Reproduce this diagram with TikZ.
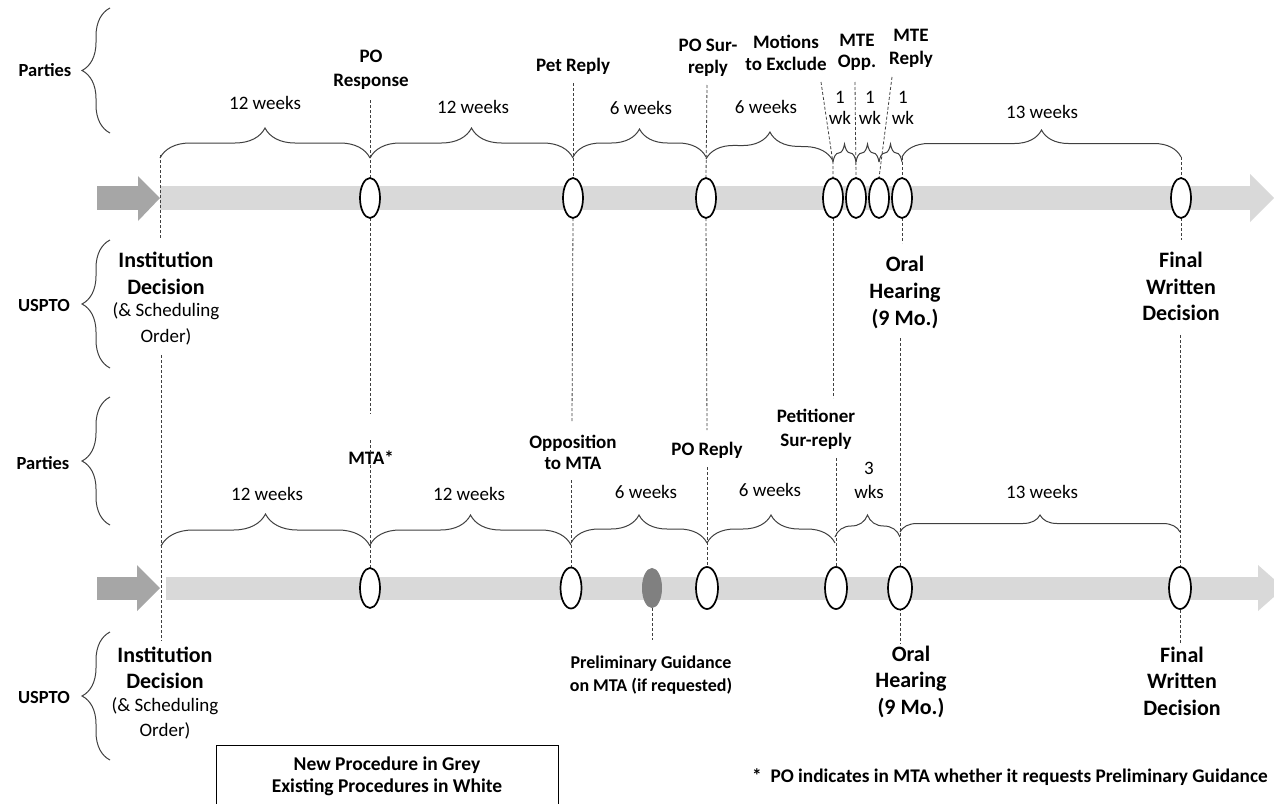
\documentclass[tikz,border=0pt]{standalone}
\usepackage{fontspec}
\setmainfont{Carlito}
\usetikzlibrary{decorations.pathreplacing,shapes.geometric}
\definecolor{barc}{HTML}{D9D9D9}
\definecolor{arrc}{HTML}{A6A6A6}
\definecolor{newc}{HTML}{808080}
\definecolor{linec}{HTML}{404040}
\begin{document}
\begin{tikzpicture}[x=1pt,y=-1pt,
 ev/.style={ellipse,draw=black,line width=1.7pt,fill=white,minimum width=20pt,minimum height=40pt,inner sep=0pt},
 evb/.style={ev,minimum width=22pt,minimum height=42pt},
 dl/.style={draw=linec,line width=0.8pt,dash pattern=on 3pt off 2pt},
 br/.style={draw=linec,line width=1pt,decorate,decoration={brace,amplitude=#1}},
 br/.default=30pt,
 lb/.style={font=\fontsize{19}{23}\selectfont\bfseries,align=center,inner sep=0pt},
 wk/.style={font=\fontsize{19}{21}\selectfont,align=center,inner sep=0pt},
 big/.style={font=\fontsize{22}{26.5}\selectfont\bfseries,align=center,inner sep=0pt},
 sm/.style={font=\fontsize{19}{25.5}\selectfont,align=center,inner sep=0pt},
 side/.style={font=\fontsize{18.5}{22}\selectfont\bfseries,inner sep=0pt},
]
\useasboundingbox (0,0) rectangle (1274,803);
\fill[white] (0,0) rectangle (1274,803);

% ---------- bars ----------
\fill[barc] (160,186) rectangle (1250,210);
\fill[barc] (1250,174) -- (1274,198) -- (1250,222) -- cycle;
\fill[arrc] (97,186) rectangle (138,210);
\fill[arrc] (138,176) -- (160,198) -- (138,221) -- cycle;

\fill[barc] (166,577) rectangle (1258,600);
\fill[barc] (1258,565) -- (1284,588) -- (1258,611) -- cycle;
\fill[arrc] (97,577) rectangle (137,600);
\fill[arrc] (137,565) -- (160,588) -- (137,611) -- cycle;

% ---------- side braces ----------
\node[side] (par1) at (45,70) {Parties};
\node[side] (usp1) at (44,305) {USPTO};
\node[side] (par2) at (43,463) {Parties};
\node[side] (usp2) at (44,697) {USPTO};
\draw[br=28pt] (110,133) -- (110,8);
\draw[br=28pt] (110,368) -- (110,240);
\draw[br=28pt] (110,525) -- (110,397);
\draw[br=28pt] (110,760) -- (110,632);

% ---------- top labels ----------
\node[lb,font=\fontsize{19}{24}\selectfont\bfseries] (poresp) at (371,70) {PO\\Response};
\node[lb] (petrep) at (573,66) {Pet Reply};
\node[lb,font=\fontsize{19}{22}\selectfont\bfseries] (posur) at (708,58) {PO Sur-\\reply};
\node[lb,font=\fontsize{19}{22}\selectfont\bfseries] (mte) at (786,53) {Motions\\to Exclude};
\node[lb,font=\fontsize{19}{21}\selectfont\bfseries] (mteopp) at (857,52) {MTE\\Opp.};
\node[lb,font=\fontsize{19}{23}\selectfont\bfseries] (mterep) at (911,48) {MTE\\Reply};

\node[big] (inst1a) at (166,273.5) {Institution\\Decision};
\node[sm] (inst1b) at (166,324) {(\& Scheduling\\Order)};
\node[big,font=\fontsize{22}{27}\selectfont\bfseries] (oral1) at (905,292) {Oral\\Hearing\\(9 Mo.)};
\node[big] (fwd1) at (1181,286.5) {Final\\Written\\Decision};

% ---------- bottom labels ----------
\node[lb] (mta) at (371,458) {MTA*};
\node[lb,font=\fontsize{19}{21}\selectfont\bfseries] (opp) at (573,452) {Opposition\\to MTA};
\node[lb] (poreply) at (707,450) {PO Reply};
\node[lb,font=\fontsize{19}{24}\selectfont\bfseries] (petsur) at (816,429) {Petitioner\\Sur-reply};

\node[big] (inst2a) at (165,668) {Institution\\Decision};
\node[sm] (inst2b) at (165,718.5) {(\& Scheduling\\Order)};
\node[lb,font=\fontsize{18}{23}\selectfont\bfseries] (prelim) at (651,675) {Preliminary Guidance\\on MTA (if requested)};
\node[big] (oral2) at (911,681.5) {Oral\\Hearing\\(9 Mo.)};
\node[big] (fwd2) at (1182,681) {Final\\Written\\Decision};

% ---------- legend & footnote ----------
\draw[black,line width=0.8pt] (216,812) -- (216,745) -- (558,745) -- (558,812);
\node[lb,font=\fontsize{19.5}{22}\selectfont\bfseries] (legend) at (387,776) {New Procedure in Grey\\Existing Procedures in White};
\node[lb,font=\fontsize{19.3}{22}\selectfont\bfseries,anchor=west] (foot) at (752,777) {*\ \ PO indicates in MTA whether it requests Preliminary Guidance};

% ---------- coordinates ----------
\coordinate (t160a) at (160,155);
\coordinate (t160b) at (160,238);
\coordinate (t160c) at (161,355);
\coordinate (t160d) at (161,641);
\coordinate (t370a) at (370,100);
\coordinate (t370b) at (370,414);
\coordinate (b370a) at (370,440);
\coordinate (t573a) at (573,83);
\coordinate (t573b) at (572,422);
\coordinate (b571a) at (571,480);
\coordinate (t706a) at (707,85);
\coordinate (t706b) at (707,430);
\coordinate (b707a) at (707,467);
\coordinate (t833a) at (821,82);
\coordinate (t833m) at (833,163);
\coordinate (t833b) at (833,398);
\coordinate (b835a) at (836,458);
\coordinate (t856a) at (855,82);
\coordinate (t879a) at (892,77);
\coordinate (t902a) at (902,157);
\coordinate (t902b) at (902,243);
\coordinate (b900a) at (900,338);
\coordinate (b900b) at (900,644);
\coordinate (t1181a) at (1181,157);
\coordinate (t1181b) at (1181,240);
\coordinate (b1180a) at (1180,335);
\coordinate (b1180b) at (1180,644);
\coordinate (bg) at (652,640);

% ---------- dashed lines ----------
\draw[dl] (t160a) -- (t160b);
\draw[dl] (t160c) -- (t160d);
\draw[dl] (t370a) -- (370,178);
\draw[dl] (370,218) -- (t370b);
\draw[dl] (b370a) -- (370,568);
\draw[dl] (t573a) -- (573,178);
\draw[dl] (573,218) -- (t573b);
\draw[dl] (b571a) -- (571,568);
\draw[dl] (t706a) -- (706,178);
\draw[dl] (706,218) -- (t706b);
\draw[dl] (b707a) -- (707,568);
\draw[dl] (t833a) -- (t833m) -- (833,178);
\draw[dl] (833,218) -- (t833b);
\draw[dl] (b835a) -- (836,568);
\draw[dl] (t856a) -- (856,178);
\draw[dl] (t879a) -- (879,178);
\draw[dl] (t902a) -- (902,178);
\draw[dl] (902,218) -- (t902b);
\draw[dl] (b900a) -- (b900b);
\draw[dl] (t1181a) -- (1181,178);
\draw[dl] (1181,218) -- (t1181b);
\draw[dl] (b1180a) -- (b1180b);
\draw[dl] (652,608) -- (bg);

% ---------- top events ----------
\node[ev] (e1) at (370,198) {};
\node[ev] (e2) at (573,198) {};
\node[ev] (e3) at (706,198) {};
\node[ev] (e4) at (833,198) {};
\node[ev] (e5) at (856,198) {};
\node[ev] (e6) at (879,198) {};
\node[ev] (e7) at (902,198) {};
\node[ev] (e8) at (1181,198) {};

% ---------- bottom events ----------
\node[ev] (f1) at (370,588) {};
\node[ev,minimum width=21pt,minimum height=41pt] (f2) at (571,588) {};
\node[ellipse,fill=newc,draw=newc,line width=1pt,minimum width=19pt,minimum height=39pt,inner sep=0pt] (fg) at (652,588) {};
\node[evb] (f3) at (707,588) {};
\node[evb] (f4) at (836,588) {};
\node[evb,minimum width=24pt,minimum height=43pt] (f5) at (900,588) {};
\node[evb] (f6) at (1180,588) {};

% ---------- top braces ----------
\draw[br=30pt] (160,158) -- (370,158);
\draw[br=30pt] (370,158) -- (573,158);
\draw[br=28pt] (573,157) -- (706,157);
\draw[br=28pt] (706,159) -- (833,161);
\draw[br=18pt] (833,162) -- (856,162);
\draw[br=18pt] (856,162) -- (879,162);
\draw[br=18pt] (879,162) -- (902,162);
\draw[br=27pt] (902,157) -- (1181,157);
\node[wk] (w1) at (265,103) {12 weeks};
\node[wk] (w2) at (473,107) {12 weeks};
\node[wk] (w3) at (641,108) {6 weeks};
\node[wk] (w4) at (766,107) {6 weeks};
\node[wk] (w5) at (840,108) {1\\wk};
\node[wk] (w6) at (870,108) {1\\wk};
\node[wk] (w7) at (903,108) {1\\wk};
\node[wk] (w8) at (1042,112) {13 weeks};

% ---------- bottom braces ----------
\draw[br=32pt] (161,546) -- (370,546);
\draw[br=30pt] (370,545) -- (571,545);
\draw[br=28pt] (571,543) -- (707,543);
\draw[br=28pt] (707,543) -- (835,543);
\draw[br=22pt] (835,537) -- (900,537);
\draw[br=17pt] (900,532) -- (1180,532);
\node[wk] (v1) at (267,494) {12 weeks};
\node[wk] (v2) at (469,494) {12 weeks};
\node[wk] (v3) at (646,492) {6 weeks};
\node[wk] (v4) at (770,490) {6 weeks};
\node[wk,font=\fontsize{19}{24}\selectfont] (v5) at (869,480) {3\\wks};
\node[wk] (v6) at (1042,492) {13 weeks};
\end{tikzpicture}
\end{document}
